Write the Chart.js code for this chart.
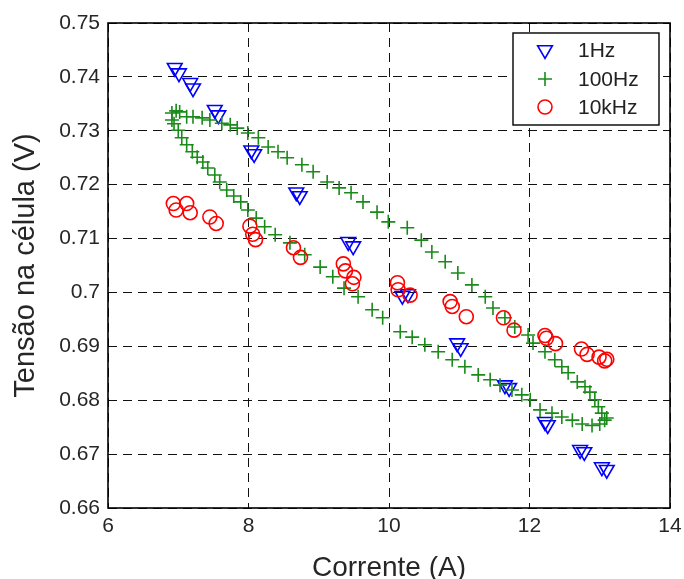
<!DOCTYPE html>
<html>
<head>
<meta charset="utf-8">
<script src="https://cdn.jsdelivr.net/npm/chart.js@4/dist/chart.umd.min.js"></script>
<style>
    html, body { margin: 0; padding: 0; background: #fff; }
</style>
</head>
<body>
<canvas id="chartContainer" width="684" height="579"></canvas>
<script>
// Series labels shown in the legend
const seriesLabels = ['1Hz', '100Hz', '10kHz'];

// 1 Hz (triangles)
const current1Hz = [6.95, 7.01, 7.17, 7.21, 7.52, 7.57, 8.04, 8.08, 8.68, 8.73, 9.42, 9.49,
    10.19, 10.27, 10.97, 11.02, 11.65, 11.71, 12.22, 12.26, 12.72, 12.78, 13.03, 13.10];
const voltage1Hz = [0.7417, 0.7407, 0.7389, 0.7379, 0.7339, 0.7329, 0.7264, 0.7257, 0.7186, 0.7179, 0.7094, 0.7086,
    0.6994, 0.6997, 0.6906, 0.6897, 0.6828, 0.6823, 0.6760, 0.6754, 0.6708, 0.6704, 0.6676, 0.6671];

// 100 Hz (crosses) - upper branch then lower branch of the loop
const current100Hz = [6.91, 6.97, 7.02, 7.12, 7.21, 7.34, 7.45, 7.62, 7.74, 7.84, 7.99, 8.14, 8.28, 8.42, 8.55,
    8.76, 8.92, 9.12, 9.29, 9.46, 9.63, 9.83, 9.99, 10.26, 10.46, 10.61, 10.80, 10.98, 11.18, 11.37, 11.48,
    11.65, 11.79, 11.98, 12.05, 12.22, 12.36, 12.46, 12.55, 12.68, 12.79, 12.86, 12.93, 12.98, 13.03, 13.07,
    6.91, 6.94, 7.00, 7.05, 7.12, 7.20, 7.27, 7.35, 7.42, 7.52, 7.59, 7.69, 7.79, 7.89, 7.99, 8.11, 8.23,
    8.38, 8.59, 8.80, 9.02, 9.20, 9.36, 9.56, 9.76, 9.91, 10.16, 10.33, 10.51, 10.70, 10.90, 11.08, 11.27,
    11.44, 11.58, 11.75, 11.89, 12.01, 12.15, 12.32, 12.46, 12.61, 12.75, 12.89, 13.00, 13.10];
const voltage100Hz = [0.7333, 0.7337, 0.7335, 0.7326, 0.7326, 0.7324, 0.7320, 0.7314, 0.7311, 0.7305, 0.7296, 0.7287, 0.7270, 0.7261, 0.7250,
    0.7237, 0.7224, 0.7205, 0.7194, 0.7185, 0.7168, 0.7149, 0.7131, 0.7120, 0.7097, 0.7075, 0.7057, 0.7036, 0.7014, 0.6992, 0.6971,
    0.6953, 0.6936, 0.6921, 0.6906, 0.6890, 0.6875, 0.6862, 0.6851, 0.6834, 0.6825, 0.6815, 0.6801, 0.6788, 0.6776, 0.6763,
    0.7320, 0.7313, 0.7301, 0.7287, 0.7274, 0.7261, 0.7251, 0.7242, 0.7231, 0.7218, 0.7205, 0.7190, 0.7179, 0.7168, 0.7153, 0.7138, 0.7122,
    0.7107, 0.7092, 0.7070, 0.7047, 0.7029, 0.7008, 0.6992, 0.6968, 0.6953, 0.6927, 0.6917, 0.6903, 0.6890, 0.6875, 0.6862, 0.6847,
    0.6838, 0.6828, 0.6819, 0.6810, 0.6801, 0.6782, 0.6776, 0.6769, 0.6763, 0.6756, 0.6753, 0.6756, 0.6767];

// 10 kHz (circles)
const current10kHz = [6.93, 6.97, 7.12, 7.17, 7.45, 7.54, 8.02, 8.06, 8.10, 8.64, 8.74, 9.35, 9.38, 9.50, 9.48,
    10.12, 10.13, 10.30, 10.87, 10.90, 11.10, 11.63, 11.78, 12.22, 12.24, 12.37, 12.74, 12.82, 12.99, 13.07, 13.10];
const voltage10kHz = [0.7165, 0.7153, 0.7165, 0.7148, 0.7140, 0.7128, 0.7123, 0.7108, 0.7098, 0.7083, 0.7065, 0.7053, 0.7040, 0.7028, 0.7016,
    0.7018, 0.7005, 0.6995, 0.6983, 0.6974, 0.6955, 0.6953, 0.6930, 0.6920, 0.6915, 0.6905, 0.6895, 0.6885, 0.6880, 0.6873, 0.6876];

// Axis ticks
const xTicks = [6, 8, 10, 12, 14];
const yTicks = [0.66, 0.67, 0.68, 0.69, 0.70, 0.71, 0.72, 0.73, 0.74, 0.75];

function toPoints(xs, ys) {
    return xs.map((x, i) => ({ x: x, y: ys[i] }));
}

// Draw one legend marker the same way as the data points
function drawMarker(ctx, ds, x, y) {
    const r = ds.pointRadius;
    ctx.save();
    ctx.strokeStyle = ds.borderColor;
    ctx.lineWidth = ds.pointBorderWidth;
    ctx.beginPath();
    if (ds.pointStyle === 'triangle') {
        ctx.moveTo(x - r * Math.sin(Math.PI / 3), y - r / 2);
        ctx.lineTo(x + r * Math.sin(Math.PI / 3), y - r / 2);
        ctx.lineTo(x, y + r);
        ctx.closePath();
    } else if (ds.pointStyle === 'cross') {
        ctx.moveTo(x - r, y); ctx.lineTo(x + r, y);
        ctx.moveTo(x, y - r); ctx.lineTo(x, y + r);
    } else {
        ctx.arc(x, y, r, 0, Math.PI * 2);
    }
    ctx.stroke();
    ctx.restore();
}

// Box around the plot area
const frameBox = {
    id: 'frameBox',
    beforeDatasetsDraw(chart) {
        const { ctx, chartArea } = chart;
        ctx.save();
        ctx.strokeStyle = '#000';
        ctx.lineWidth = 1.6;
        ctx.strokeRect(chartArea.left, chartArea.top, chartArea.right - chartArea.left, chartArea.bottom - chartArea.top);
        ctx.restore();
    }
};

// MATLAB style legend inside the upper right corner
const boxLegend = {
    id: 'boxLegend',
    afterDraw(chart) {
        const { ctx, chartArea } = chart;
        const w = 146, h = 92;
        const left = chartArea.right - 11 - w;
        const top = chartArea.top + 10;
        ctx.save();
        ctx.fillStyle = '#fff';
        ctx.fillRect(left, top, w, h);
        ctx.strokeStyle = '#000';
        ctx.lineWidth = 1.4;
        ctx.strokeRect(left, top, w, h);
        ctx.font = '21px "Liberation Sans", Arial, sans-serif';
        ctx.fillStyle = '#222';
        ctx.textBaseline = 'middle';
        ctx.textAlign = 'left';
        const rows = [17, 46, 74];
        chart.data.datasets.forEach((ds, i) => {
            drawMarker(ctx, ds, left + 32, top + rows[i]);
            ctx.fillText(ds.label, left + 65, top + rows[i] + 1);
        });
        ctx.restore();
    }
};

const ctx = document.getElementById('chartContainer').getContext('2d');
new Chart(ctx, {
    type: 'scatter',
    data: {
        datasets: [{
            label: seriesLabels[0],
            data: toPoints(current1Hz, voltage1Hz),
            pointStyle: 'triangle',
            rotation: 180,
            pointRadius: 8.5,
            pointBorderWidth: 1.6,
            borderColor: '#0000ff',
            backgroundColor: 'rgba(0,0,0,0)',
            order: 2
        }, {
            label: seriesLabels[1],
            data: toPoints(current100Hz, voltage100Hz),
            pointStyle: 'cross',
            pointRadius: 7,
            pointBorderWidth: 1.6,
            borderColor: '#1a8a1a',
            backgroundColor: 'rgba(0,0,0,0)',
            order: 1
        }, {
            label: seriesLabels[2],
            data: toPoints(current10kHz, voltage10kHz),
            pointStyle: 'circle',
            pointRadius: 7,
            pointBorderWidth: 1.6,
            borderColor: '#ff0000',
            backgroundColor: 'rgba(0,0,0,0)',
            order: 0
        }]
    },
    options: {
        responsive: false,
        animation: false,
        devicePixelRatio: 1,
        layout: { padding: { left: 0, top: 23, right: 14, bottom: 0 } },
        plugins: {
            legend: { display: false },
            tooltip: { enabled: false }
        },
        scales: {
            x: {
                type: 'linear',
                min: 6,
                max: 14,
                afterBuildTicks: (scale) => { scale.ticks = xTicks.map(v => ({ value: v })); },
                afterFit: (scale) => {
                    scale.height = 71;
                    scale.paddingLeft = 0;
                    scale.paddingRight = 0;
                },
                ticks: {
                    font: { family: '"Liberation Sans", Arial, sans-serif', size: 21 },
                    color: '#262626',
                    padding: 6,
                    maxRotation: 0
                },
                grid: { color: '#111', lineWidth: 1, drawTicks: false },
                border: { display: false, dash: [9, 6] },
                title: {
                    display: true,
                    text: 'Corrente (A)',
                    font: { family: '"Liberation Sans", Arial, sans-serif', size: 28, lineHeight: 0.8 },
                    color: '#262626',
                    padding: { top: 0, bottom: 0 }
                }
            },
            y: {
                type: 'linear',
                min: 0.66,
                max: 0.75,
                afterBuildTicks: (scale) => { scale.ticks = yTicks.map(v => ({ value: v })); },
                afterFit: (scale) => { scale.width = 108; },
                ticks: {
                    font: { family: '"Liberation Sans", Arial, sans-serif', size: 21 },
                    color: '#262626',
                    padding: 8,
                    callback: (v) => String(Number(v.toFixed(2)))
                },
                grid: { color: '#111', lineWidth: 1, drawTicks: false },
                border: { display: false, dash: [9, 6] },
                title: {
                    display: true,
                    text: 'Tensão na célula (V)',
                    font: { family: '"Liberation Sans", Arial, sans-serif', size: 29, lineHeight: 0.8 },
                    color: '#262626',
                    padding: { top: 14, bottom: 0 }
                }
            }
        }
    },
    plugins: [frameBox, boxLegend]
});
</script>
</body>
</html>
